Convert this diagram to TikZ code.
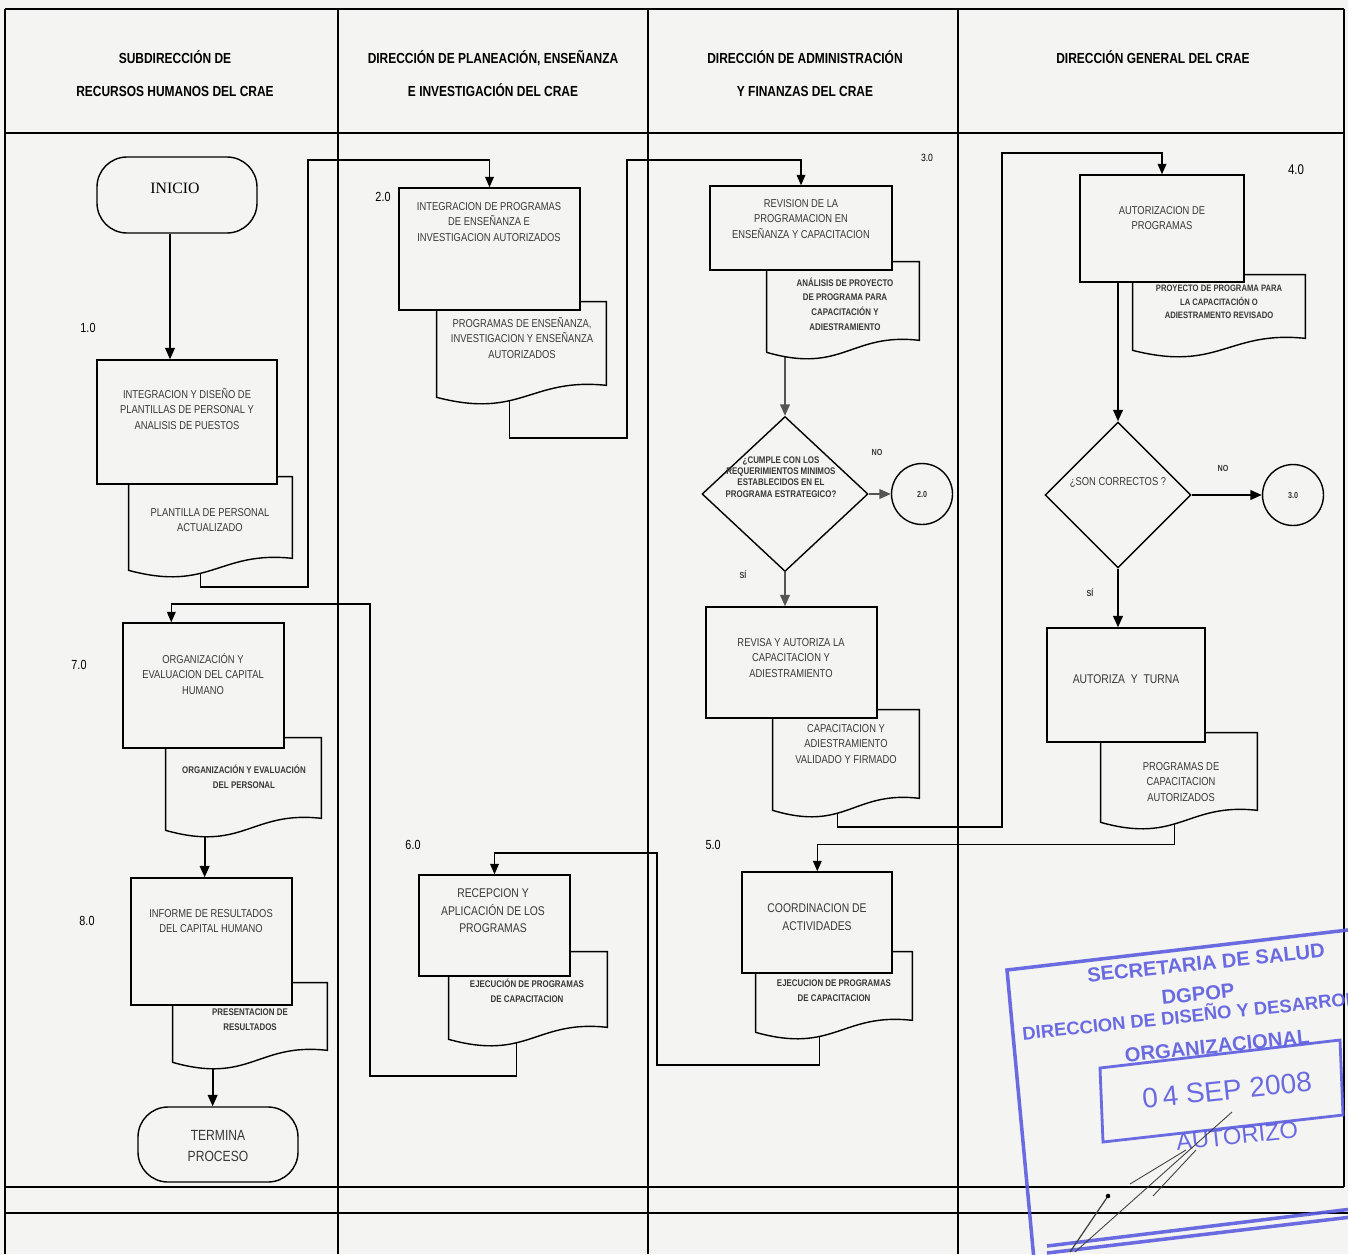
\documentclass[tikz,border=0pt]{standalone}
\usepackage{fontspec}
\setmainfont{Liberation Sans}[FakeStretch=0.82]
\newfontfamily\inifont{Liberation Serif}
\newfontfamily\stampfont{Liberation Sans}
\usetikzlibrary{shapes.geometric,arrows.meta,calc,backgrounds}
\definecolor{paperGrey}{HTML}{F4F4F2}
\definecolor{inkGrey}{HTML}{383838}
\definecolor{flowGrey}{HTML}{555555}
\definecolor{stampBlue}{HTML}{5C5CE0}

% wavy bottom of a document node
\newcommand\docline[1]{%
  \draw[shapeline,fill=paperGrey] (#1.north west) -- (#1.north east)
    -- ($(#1.south east)+(0,-12)$)
    .. controls ($(#1.south west)!0.55!(#1.south east)+(0,-20)$)
    and ($(#1.south west)!0.5!(#1.south east)+(0,22)$) .. (#1.south west) -- cycle;}

\begin{document}
\begin{tikzpicture}[x=0.02cm,y=-0.02cm,
  sz/.style 2 args={minimum width=#1*0.02cm,minimum height=#2*0.02cm},
  shapeline/.style={draw=black,line width=0.8pt},
  procbox/.style 2 args={rectangle,shapeline,fill=paperGrey,inner sep=0,sz={#1}{#2}},
  docbox/.style 2 args={rectangle,inner sep=0,sz={#1}{#2}},
  termbox/.style 2 args={rectangle,rounded corners=0.6cm,shapeline,fill=paperGrey,inner sep=0,sz={#1}{#2}},
  askbox/.style 2 args={diamond,shapeline,fill=paperGrey,inner sep=0,sz={#1}{#2}},
  linkbox/.style={circle,shapeline,fill=paperGrey,inner sep=0,minimum size=1.22cm},
  txt/.style={align=center,inner sep=0,text=inkGrey,font=\fontsize{6.5}{8.8}\selectfont},
  txtm/.style={txt,font=\fontsize{7.2}{10}\selectfont},
  txtb/.style={txt,font=\bfseries\fontsize{5.5}{8.4}\selectfont},
  stepno/.style={inner sep=0,font=\fontsize{7.5}{9}\selectfont},
  yesno/.style={inner sep=0,text=inkGrey,font=\bfseries\fontsize{5}{6}\selectfont},
  lanehead/.style={align=center,inner sep=0,font=\bfseries\fontsize{8.3}{18.7}\selectfont},
  stamptxt/.style={inner sep=0,text=stampBlue,rotate=6,font=\stampfont\bfseries\fontsize{11.5}{13}\selectfont},
  flow/.style={line width=1.1pt,-{Triangle[length=6.5pt,width=5.5pt]}},
  loopback/.style={line width=0.75pt,-{Triangle[length=6pt,width=5pt]}}]
\useasboundingbox (0,0) rectangle (1348,1254);

% paper and lanes
\begin{scope}[on background layer]
\fill[paperGrey] (0,0) rectangle (1348,1254);
\draw[line width=0.9pt] (5,9) -- (1344,9);
\draw[line width=1.5pt] (5,133) -- (1344,133);
\draw[line width=0.8pt] (5,9) -- (5,1254);
\foreach \lx in {338,648,958}
  \draw[line width=0.8pt] (\lx,9) -- (\lx,1254);
\draw[line width=0.8pt] (1344,9) -- (1344,1187);
\draw[line width=0.8pt] (5,1187) -- (1344,1187);
\draw[line width=0.8pt] (5,1213) -- (1348,1213);
\end{scope}

\node[lanehead] (h1) at (175,73.5) {SUBDIRECCIÓN DE\\RECURSOS HUMANOS DEL CRAE};
\node[lanehead] (h2) at (493,73.5) {DIRECCIÓN DE PLANEACIÓN, ENSEÑANZA\\E INVESTIGACIÓN DEL CRAE};
\node[lanehead] (h3) at (805,73.5) {DIRECCIÓN DE ADMINISTRACIÓN\\Y FINANZAS DEL CRAE};
\node[lanehead] (h4) at (1153,57) {DIRECCIÓN GENERAL DEL CRAE};

% documents
\node[docbox={163}{93}] (d1) at (210.5,523.5) {}; \docline{d1}
\node[docbox={169}{95}] (d2) at (521.5,349.5) {}; \docline{d2}
\node[docbox={152}{90}] (d3) at (843,307) {}; \docline{d3}
\node[docbox={146}{100}] (d3b) at (846,760) {}; \docline{d3b}
\node[docbox={172}{75}] (d4) at (1219,312.5) {}; \docline{d4}
\node[docbox={156}{89}] (d4b) at (1179,777.5) {}; \docline{d4b}
\node[docbox={156}{80}] (d5) at (834,992) {}; \docline{d5}
\node[docbox={158}{87}] (d6) at (528,995.5) {}; \docline{d6}
\node[docbox={155}{92}] (d7) at (243.5,784) {}; \docline{d7}
\node[docbox={154}{79}] (d8) at (250,1022.5) {}; \docline{d8}

% steps
\node[termbox={160}{76}] (ini) at (177,195) {};
\node[procbox={180}{124}] (p1) at (187,422) {};
\node[procbox={181}{122}] (p2) at (489.5,249) {};
\node[procbox={182}{84}] (p3) at (801,228) {};
\node[askbox={166}{155}] (q1) at (785,494) {};
\node[linkbox] (c1) at (922,494) {};
\node[procbox={171}{111}] (r) at (791.5,662.5) {};
\node[procbox={164}{107}] (p4) at (1162,228.5) {};
\node[askbox={146}{146}] (q2) at (1118,495) {};
\node[linkbox] (c2) at (1293,495) {};
\node[procbox={158}{114}] (at) at (1126,685) {};
\node[procbox={150}{101}] (p5) at (817,922.5) {};
\node[procbox={151}{101}] (p6) at (494.5,925.5) {};
\node[procbox={161}{125}] (p7) at (203.5,685.5) {};
\node[procbox={161}{127}] (p8) at (211.5,941.5) {};
\node[termbox={160}{75}] (term) at (218,1144.5) {};

% texts
\node[inner sep=0,font=\inifont\fontsize{9}{11}\selectfont] (init) at (175,188) {INICIO};
\node[stepno] (n1) at (88,328) {1.0};
\node[txt] (p1t) at (187,409) {INTEGRACION Y DISEÑO DE\\PLANTILLAS DE PERSONAL Y\\ANALISIS DE PUESTOS};
\node[txt] (d1t) at (210,520) {PLANTILLA DE PERSONAL\\ACTUALIZADO};
\node[stepno] (n2) at (383,197) {2.0};
\node[txt] (p2t) at (489,222) {INTEGRACION DE PROGRAMAS\\DE ENSEÑANZA E\\INVESTIGACION AUTORIZADOS};
\node[txt] (d2t) at (522,338) {PROGRAMAS DE ENSEÑANZA,\\INVESTIGACION Y ENSEÑANZA\\AUTORIZADOS};
\node[stepno,font=\fontsize{6}{7}\selectfont] (n3) at (927,158) {3.0};
\node[txt] (p3t) at (801,219) {REVISION DE LA\\PROGRAMACION EN\\ENSEÑANZA Y CAPACITACION};
\node[txtb] (d3t) at (845,304) {ANÁLISIS DE PROYECTO\\DE PROGRAMA PARA\\CAPACITACIÓN Y\\ADIESTRAMIENTO};
\node[txtb,font=\bfseries\fontsize{5.5}{6.4}\selectfont] (q1t) at (781,477) {¿CUMPLE CON LOS\\REQUERIMIENTOS MINIMOS\\ESTABLECIDOS EN EL\\PROGRAMA ESTRATEGICO?};
\node[yesno] (no1) at (877,452) {NO};
\node[yesno] (c1t) at (922,494) {2.0};
\node[yesno] (si1) at (743,575) {SÍ};
\node[txt] (rt) at (791,658) {REVISA Y AUTORIZA LA\\CAPACITACION Y\\ADIESTRAMIENTO};
\node[txt] (d3bt) at (846,744) {CAPACITACION Y\\ADIESTRAMIENTO\\VALIDADO Y FIRMADO};
\node[stepno,font=\fontsize{8}{9}\selectfont] (n4) at (1296,170) {4.0};
\node[txt] (p4t) at (1162,218) {AUTORIZACION DE\\PROGRAMAS};
\node[txtb,font=\bfseries\fontsize{5.3}{7.6}\selectfont] (d4t) at (1219,302) {PROYECTO DE PROGRAMA PARA\\LA CAPACITACIÓN O\\ADIESTRAMENTO REVISADO};
\node[txt] (q2t) at (1118,482) {¿SON CORRECTOS ?};
\node[yesno] (no2) at (1223,468) {NO};
\node[yesno] (c2t) at (1293,495) {3.0};
\node[yesno] (si2) at (1090,593) {SÍ};
\node[txtm] (att) at (1126,679) {AUTORIZA \ Y \ TURNA};
\node[txt] (d4bt) at (1181,782) {PROGRAMAS DE\\CAPACITACION\\AUTORIZADOS};
\node[stepno] (n5) at (713,845) {5.0};
\node[txtm] (p5t) at (817,917) {COORDINACION DE\\ACTIVIDADES};
\node[txtb] (d5t) at (834,991) {EJECUCION DE PROGRAMAS\\DE CAPACITACION};
\node[stepno] (n6) at (413,845) {6.0};
\node[txtm] (p6t) at (493,911) {RECEPCION Y\\APLICACIÓN DE LOS\\PROGRAMAS};
\node[txtb] (d6t) at (527,991) {EJECUCIÓN DE PROGRAMAS\\DE CAPACITACION};
\node[stepno] (n7) at (79,665) {7.0};
\node[txt] (p7t) at (203,674) {ORGANIZACIÓN Y\\EVALUACION DEL CAPITAL\\HUMANO};
\node[txtb] (d7t) at (244,777) {ORGANIZACIÓN Y EVALUACIÓN\\DEL PERSONAL};
\node[stepno] (n8) at (87,921) {8.0};
\node[txt] (p8t) at (211,921) {INFORME DE RESULTADOS\\DEL CAPITAL HUMANO};
\node[txtb] (d8t) at (250,1020) {PRESENTACION DE\\RESULTADOS};
\node[txt,font=\fontsize{8.4}{12}\selectfont] (termt) at (218,1146) {TERMINA\\PROCESO};

% connectors
\coordinate (iniout) at ($(ini.south)+(-7,0)$);
\coordinate (d1out) at ($(d1.south west)+(72,0)$);
\coordinate (d2out) at ($(d2.south west)+(73,0)$);
\coordinate (d3bout) at ($(d3b.south west)+(65,0)$);
\coordinate (d4bout) at ($(d4b.south west)+(74,0)$);
\coordinate (p5in) at ($(p5.north west)+(76,0)$);
\coordinate (d5out) at ($(d5.south west)+(64,0)$);
\coordinate (d6out) at ($(d6.south west)+(68,0)$);
\coordinate (p7in) at ($(p7.north west)+(49,0)$);
\coordinate (d7out) at ($(d7.south west)+(39,0)$);
\coordinate (d8out) at ($(d8.south west)+(40,0)$);
\begin{scope}[on background layer]
\draw[flow] (iniout) -- (iniout |- p1.north);
\draw[loopback] (d1out) |- (308,587) -- (308,160) -| (p2.north);
\draw[loopback] (d2out) |- (627,438) -- (627,160) -| (p3.north);
\draw[flow,flowGrey] (q1.north |- d3.south) -- (q1.north);
\draw[flow,flowGrey] (q1.east) -- (c1.west);
\draw[flow,flowGrey] (q1.south) -- (q1.south |- r.north);
\draw[loopback] (d3bout) |- (1002,827) -- (1002,153) -| (p4.north);
\draw[flow] (p4.south -| q2.north) -- (q2.north);
\draw[flow] (q2.east) -- (c2.west);
\draw[flow] (q2.south) -- (q2.south |- at.north);
\draw[loopback] (d4bout) |- ($(p5in)+(0,-27)$) -- (p5in);
\draw[loopback] (d5out) |- (657,1065) -- (657,853) -| (p6.north);
\draw[loopback] (d6out) |- (370,1076) -- (370,604) -| (p7in);
\draw[flow] (d7out) -- (d7out |- p8.north);
\draw[flow] (d8out) -- (d8out |- term.north);
\end{scope}

% stamp
\begin{scope}
\clip (0,0) rectangle (1348,1254);
\begin{scope}[opacity=0.9]
\draw[stampBlue,line width=2pt] (1365,928) -- (1007,970) -- (1034,1260);
\draw[stampBlue,line width=1.6pt] (1100,1068) -- (1340,1040) -- (1343,1115) -- (1103,1142) -- cycle;
\draw[stampBlue,line width=2pt] (1047,1246) -- (1360,1208);
\draw[stampBlue,line width=2pt] (1047,1253) -- (1360,1216);
\node[stamptxt] (s1) at (1206,963) {SECRETARIA DE SALUD};
\node[stamptxt] (s2) at (1198,994) {DGPOP};
\node[stamptxt,anchor=west,font=\stampfont\bfseries\fontsize{10.5}{12}\selectfont] (s3) at (1022,1032) {DIRECCION DE DISEÑO Y DESARROLLO};
\node[stamptxt] (s4) at (1217,1046) {ORGANIZACIONAL};
\node[stamptxt,font=\stampfont\fontsize{16}{18}\selectfont] (s5) at (1227,1090) {0\,4 SEP 2008};
\node[stamptxt,font=\stampfont\fontsize{13.5}{15}\selectfont] (s6) at (1237,1136) {AUTORIZO};
\end{scope}
\draw[black!75,line width=0.7pt] (1070,1252) -- (1108,1196);
\draw[black!75,line width=0.5pt] (1075,1252) -- (1232,1112);
\draw[black!75,line width=0.5pt] (1130,1184) -- (1186,1150);
\draw[black!75,line width=0.5pt] (1153,1196) -- (1196,1150);
\fill[black] (1108,1196) circle (1.3pt);
\end{scope}
\end{tikzpicture}
\end{document}
